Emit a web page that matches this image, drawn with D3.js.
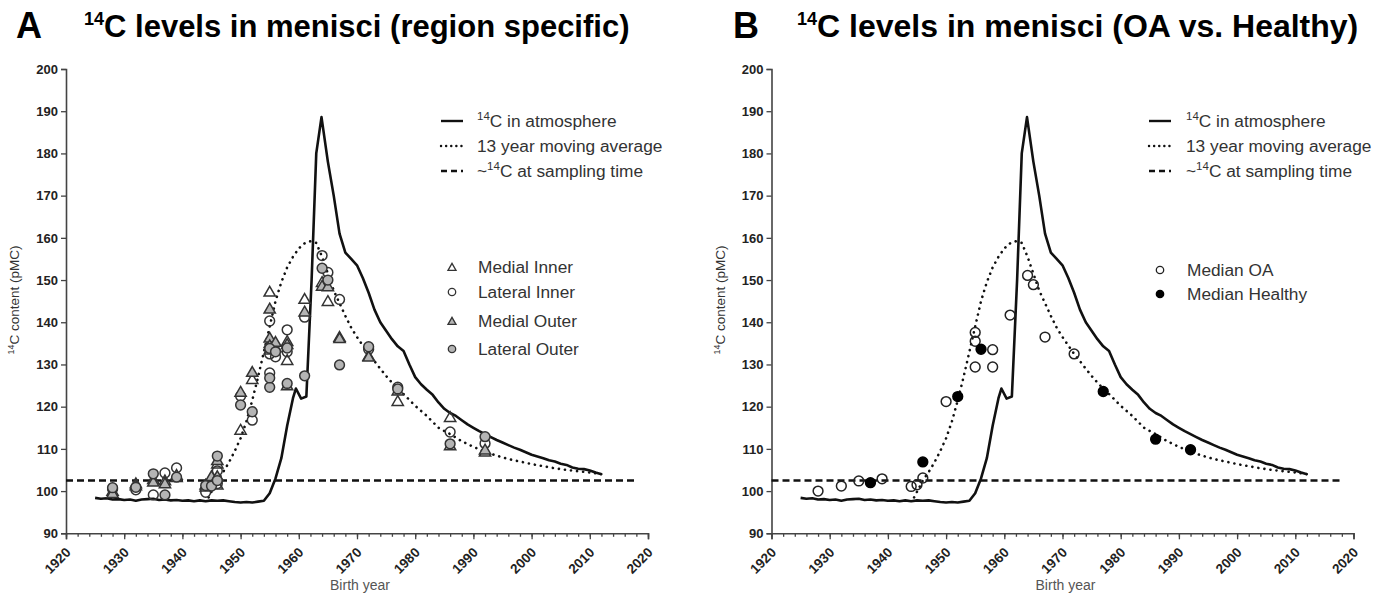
<!DOCTYPE html>
<html>
<head>
<meta charset="utf-8">
<script src="https://cdn.jsdelivr.net/npm/d3@7"></script>
<style>
  body { margin: 0; background: #fff; }
  text { font-family: "Liberation Sans", Arial, sans-serif; }
</style>
</head>
<body>
<script>
// ---- data ----
// atmospheric 14C (solid line)
const atmYear = [1925, 1926, 1927, 1928, 1929, 1930, 1931, 1932, 1933, 1934, 1935, 1936, 1937, 1938, 1939, 1940,
  1941, 1942, 1943, 1944, 1945, 1946, 1947, 1948, 1949, 1950, 1951, 1952, 1953, 1954, 1955, 1956, 1957, 1958,
  1959, 1959.5, 1960.4, 1961.3, 1962.2, 1963, 1963.9, 1965, 1966, 1967, 1968, 1969, 1970, 1971, 1972, 1973,
  1974, 1975, 1976, 1977, 1978, 1979, 1980, 1981, 1982, 1983, 1984, 1985, 1986, 1987, 1988, 1989, 1990, 1991,
  1992, 1993, 1994, 1995, 1996, 1997, 1998, 1999, 2000, 2001, 2002, 2003, 2004, 2005, 2006, 2007, 2008, 2009,
  2010, 2011, 2012];
const atmValue = [98.4, 98.2, 98.3, 98.0, 98.1, 97.9, 98.0, 97.7, 98.0, 98.1, 98.2, 97.9, 98.0, 97.8, 97.9, 97.7,
  97.8, 97.6, 97.8, 97.6, 97.8, 97.7, 97.8, 97.6, 97.4, 97.3, 97.4, 97.3, 97.5, 97.7, 99.5, 103.0, 107.8, 115.5,
  122.0, 124.3, 121.9, 122.4, 150.0, 180.0, 188.6, 178.0, 170.0, 161.0, 156.5, 155.0, 153.5, 150.5, 147.0, 143.0,
  140.0, 138.0, 136.0, 134.3, 133.2, 130.0, 127.0, 125.3, 124.0, 122.8, 121.0, 119.5, 118.5, 117.8, 116.8, 115.8,
  115.0, 114.2, 113.5, 112.8, 112.1, 111.5, 110.9, 110.3, 109.8, 109.2, 108.6, 108.2, 107.8, 107.3, 107.0, 106.5,
  106.2, 105.6, 105.3, 105.2, 104.9, 104.4, 104.0];

// 13 year moving average (dotted line)
const maYear = [1944.5, 1946, 1947, 1948, 1949, 1950, 1951, 1952, 1953, 1954, 1955, 1956, 1957, 1958, 1959, 1960,
  1961, 1962, 1963, 1964, 1965, 1966, 1967, 1968, 1969, 1970, 1971, 1972, 1973, 1974, 1975, 1976, 1977, 1978,
  1980, 1982, 1984, 1986, 1988, 1990, 1992, 1994, 1996, 1998, 2000, 2002, 2004, 2006, 2008, 2010, 2012];
const maValue = [98.5, 102.5, 104.5, 106.8, 109.5, 112.5, 116.5, 121.5, 127.0, 133.0, 139.0, 145.0, 149.5, 153.0,
  155.5, 157.5, 158.7, 159.2, 158.8, 155.5, 151.5, 147.5, 144.5, 141.5, 138.7, 136.5, 134.5, 132.5, 130.8, 129.0,
  127.3, 125.7, 124.3, 123.0, 120.2, 117.8, 115.0, 113.5, 111.8, 110.5, 109.3, 108.4, 107.6, 107.0, 106.4, 105.9,
  105.4, 105.0, 104.7, 104.4, 104.0];

// ~14C at sampling time (dashed line)
const samplingYear = [1920, 2018];
const samplingValue = [102.5, 102.5];

// panel A: region specific samples
const miYear = [1928, 1932, 1935, 1937, 1939, 1944, 1945, 1946, 1946, 1950, 1952, 1955, 1955, 1955, 1956, 1958,
  1958, 1961, 1964, 1965, 1967, 1972, 1977, 1986, 1992];
const miValue = [100.0, 101.8, 102.8, 102.5, 103.3, 101.5, 102.5, 106.5, 101.5, 114.5, 126.5, 147.2, 135.0, 133.5,
  134.0, 135.5, 131.0, 145.5, 149.5, 145.0, 136.5, 132.0, 121.3, 117.5, 109.3];

const liYear = [1928, 1932, 1935, 1937, 1939, 1944, 1945, 1946, 1946, 1950, 1952, 1955, 1955, 1955, 1956, 1958,
  1958, 1961, 1964, 1965, 1967, 1972, 1977, 1986, 1992];
const liValue = [100.5, 100.3, 99.1, 104.3, 105.5, 99.7, 102.0, 104.8, 101.8, 122.5, 116.8, 140.3, 128.0, 132.5,
  131.8, 138.2, 133.0, 141.2, 155.8, 151.8, 145.4, 133.6, 124.6, 114.0, 111.3];

const moYear = [1928, 1932, 1935, 1937, 1939, 1944, 1945, 1946, 1946, 1950, 1952, 1955, 1955, 1955, 1956, 1958,
  1958, 1961, 1964, 1965, 1967, 1972, 1977, 1986, 1992];
const moValue = [99.5, 101.3, 102.2, 101.8, 103.8, 101.0, 103.5, 107.3, 103.5, 123.5, 128.2, 143.2, 136.3, 134.5,
  135.3, 134.8, 125.0, 142.5, 148.6, 148.5, 136.2, 131.8, 123.8, 110.8, 109.8];

const loYear = [1928, 1932, 1935, 1937, 1939, 1944, 1945, 1946, 1946, 1950, 1952, 1955, 1955, 1955, 1956, 1958,
  1958, 1961, 1964, 1965, 1967, 1972, 1977, 1986, 1992];
const loValue = [100.8, 100.9, 104.1, 99.1, 103.3, 101.3, 101.2, 108.3, 102.5, 120.4, 118.8, 124.6, 133.8, 126.8,
  133.0, 133.9, 125.5, 127.3, 152.8, 150.0, 129.9, 134.2, 124.2, 111.2, 112.9];

// panel B: medians
const oaYear = [1928, 1932, 1935, 1939, 1944, 1945, 1946, 1950, 1955, 1955, 1955, 1958, 1958, 1961, 1964, 1965,
  1967, 1972];
const oaValue = [100.0, 101.2, 102.4, 102.9, 101.1, 101.5, 103.1, 121.2, 137.6, 135.5, 129.4, 133.5, 129.4, 141.7,
  151.1, 148.9, 136.5, 132.5];
const healthyYear = [1937, 1946, 1952, 1956, 1977, 1986, 1992];
const healthyValue = [102.0, 106.9, 122.4, 133.6, 123.6, 112.3, 109.8];

const yTicks = [90, 100, 110, 120, 130, 140, 150, 160, 170, 180, 190, 200];
const xTicks = [1920, 1930, 1940, 1950, 1960, 1970, 1980, 1990, 2000, 2010, 2020];

// ---- drawing ----
let width = 1389;
let height = 594;
let svg = d3.select("body").append("svg")
  .attr("width", width)
  .attr("height", height);

const axisColor = "#444";
const triangle = d3.symbol().type(d3.symbolTriangle);

function drawPanel(p) {
  let x = d3.scaleLinear().domain([1920, 2020]).range([p.left, p.left + 582]);
  let y = d3.scaleLinear().domain([90, 200]).range([533.3, 69]);
  let g = svg.append("g");

  // minor x ticks every 2 years
  g.append("g")
    .attr("transform", `translate(0,${y(90)})`)
    .call(d3.axisBottom(x).tickValues(d3.range(1920, 2021, 2)).tickSize(3.5).tickFormat(""))
    .call(a => a.select(".domain").remove());

  let xAxis = g.append("g")
    .attr("transform", `translate(0,${y(90)})`)
    .call(d3.axisBottom(x).tickValues(xTicks).tickSize(6).tickFormat(d3.format("d")));
  xAxis.selectAll("text")
    .attr("font-size", 13.5)
    .attr("font-weight", "bold")
    .attr("fill", "#222")
    .attr("text-anchor", "end")
    .attr("dy", 0)
    .attr("y", 0)
    .attr("transform", d => "translate(5,20) rotate(-45)");

  let yAxis = g.append("g")
    .attr("transform", `translate(${p.left},0)`)
    .call(d3.axisLeft(y).tickValues(yTicks).tickSize(5).tickPadding(3));
  yAxis.selectAll("text")
    .attr("font-size", 13)
    .attr("font-weight", "bold")
    .attr("fill", "#222");

  g.selectAll(".domain").attr("stroke", axisColor).attr("stroke-width", 1.6);
  g.selectAll(".tick line").attr("stroke", axisColor).attr("stroke-width", 1.3);

  // axis titles
  g.append("text")
    .attr("x", p.left + 294).attr("y", 590)
    .attr("text-anchor", "middle")
    .attr("font-size", 14)
    .attr("fill", "#555")
    .text("Birth year");

  let yl = g.append("text")
    .attr("transform", `translate(${p.left - 47},${300}) rotate(-90)`)
    .attr("text-anchor", "middle")
    .attr("font-size", 13.5)
    .attr("fill", "#333");
  yl.append("tspan").attr("font-size", 9).attr("dy", -5).text("14");
  yl.append("tspan").attr("dy", 5).text("C content (pMC)");

  // panel letter and title
  g.append("text")
    .attr("x", p.letterX).attr("y", 38)
    .attr("font-size", 36).attr("font-weight", "bold")
    .text(p.letter);
  let t = g.append("text")
    .attr("x", p.titleX).attr("y", 37)
    .attr("font-size", p.titleSize).attr("font-weight", "bold");
  t.append("tspan").attr("font-size", 18).attr("dy", -12).text("14");
  t.append("tspan").attr("dy", 12).text(p.title);

  // lines
  let line = d3.line().x(d => x(d[0])).y(d => y(d[1]));
  g.append("path")
    .datum(d3.zip(samplingYear, samplingValue))
    .attr("d", line)
    .attr("fill", "none").attr("stroke", "#111")
    .attr("stroke-width", 2.6).attr("stroke-dasharray", "7,4");
  g.append("path")
    .datum(d3.zip(maYear, maValue))
    .attr("d", line)
    .attr("fill", "none").attr("stroke", "#111")
    .attr("stroke-width", 2.6).attr("stroke-linecap", "round")
    .attr("stroke-dasharray", "0.1,6");
  g.append("path")
    .datum(d3.zip(atmYear, atmValue))
    .attr("d", line)
    .attr("fill", "none").attr("stroke", "#111")
    .attr("stroke-width", 2.6).attr("stroke-linejoin", "round");

  // points
  p.series.forEach(s => {
    let pts = d3.zip(s.year, s.value);
    if (s.shape === "triangle") {
      g.append("g").selectAll("path")
        .data(pts).enter().append("path")
        .attr("d", triangle.size(55)())
        .attr("transform", d => `translate(${x(d[0])},${y(d[1]) + 1})`)
        .attr("fill", s.fill).attr("stroke", s.stroke).attr("stroke-width", 1.5);
    } else {
      g.append("g").selectAll("circle")
        .data(pts).enter().append("circle")
        .attr("cx", d => x(d[0])).attr("cy", d => y(d[1]))
        .attr("r", s.r)
        .attr("fill", s.fill).attr("stroke", s.stroke).attr("stroke-width", 1.5);
    }
  });

  // line legend
  let lineLegend = [
    { dash: null, label: ["14", "C in atmosphere"], pre: "" },
    { dash: "0.1,5", label: [null, "13 year moving average"], pre: "" },
    { dash: "6,4", label: ["14", "C at sampling time"], pre: "~" }
  ];
  let rows = [121, 146, 171];
  lineLegend.forEach((l, i) => {
    g.append("line")
      .attr("x1", p.legX).attr("x2", p.legX + 22)
      .attr("y1", rows[i]).attr("y2", rows[i])
      .attr("stroke", "#111").attr("stroke-width", 2.4)
      .attr("stroke-linecap", l.dash === "0.1,5" ? "round" : "butt")
      .attr("stroke-dasharray", l.dash);
    let tx = g.append("text")
      .attr("x", p.legTextX).attr("y", rows[i] + 6)
      .attr("font-size", 17.3).attr("fill", "#333");
    if (l.pre) tx.append("tspan").text(l.pre);
    if (l.label[0]) {
      tx.append("tspan").attr("font-size", 11.5).attr("dy", -7).text(l.label[0]);
      tx.append("tspan").attr("dy", 7).text(l.label[1]);
    } else {
      tx.append("tspan").text(l.label[1]);
    }
  });

  // symbol legend
  p.series.forEach((s, i) => {
    let yy = p.symRows[i];
    if (s.shape === "triangle") {
      g.append("path")
        .attr("d", triangle.size(28)())
        .attr("transform", `translate(${p.symX},${yy + 1})`)
        .attr("fill", s.fill).attr("stroke", s.stroke).attr("stroke-width", 1.3);
    } else {
      g.append("circle")
        .attr("cx", p.symX).attr("cy", yy).attr("r", 3.7)
        .attr("fill", s.fill).attr("stroke", s.stroke).attr("stroke-width", 1.3);
    }
    g.append("text")
      .attr("x", p.symTextX).attr("y", yy + 6)
      .attr("font-size", 17.3).attr("fill", "#333")
      .text(s.name);
  });
}

drawPanel({
  left: 66, letter: "A", letterX: 16, titleX: 84, titleSize: 31,
  title: "C levels in menisci (region specific)",
  legX: 441, legTextX: 477, symX: 452, symTextX: 478,
  symRows: [267, 292, 321, 349],
  series: [
    { name: "Medial Inner", shape: "triangle", year: miYear, value: miValue, fill: "none", stroke: "#333" },
    { name: "Lateral Inner", shape: "circle", r: 4.9, year: liYear, value: liValue, fill: "none", stroke: "#333" },
    { name: "Medial Outer", shape: "triangle", year: moYear, value: moValue, fill: "#b4b4b4", stroke: "#333" },
    { name: "Lateral Outer", shape: "circle", r: 4.9, year: loYear, value: loValue, fill: "#b4b4b4", stroke: "#333" }
  ]
});

drawPanel({
  left: 771.5, letter: "B", letterX: 733, titleX: 797, titleSize: 32,
  title: "C levels in menisci (OA vs. Healthy)",
  legX: 1149, legTextX: 1186, symX: 1160, symTextX: 1187,
  symRows: [270, 294],
  series: [
    { name: "Median OA", shape: "circle", r: 4.9, year: oaYear, value: oaValue, fill: "none", stroke: "#222" },
    { name: "Median Healthy", shape: "circle", r: 4.9, year: healthyYear, value: healthyValue, fill: "#000", stroke: "#000" }
  ]
});
</script>
</body>
</html>
